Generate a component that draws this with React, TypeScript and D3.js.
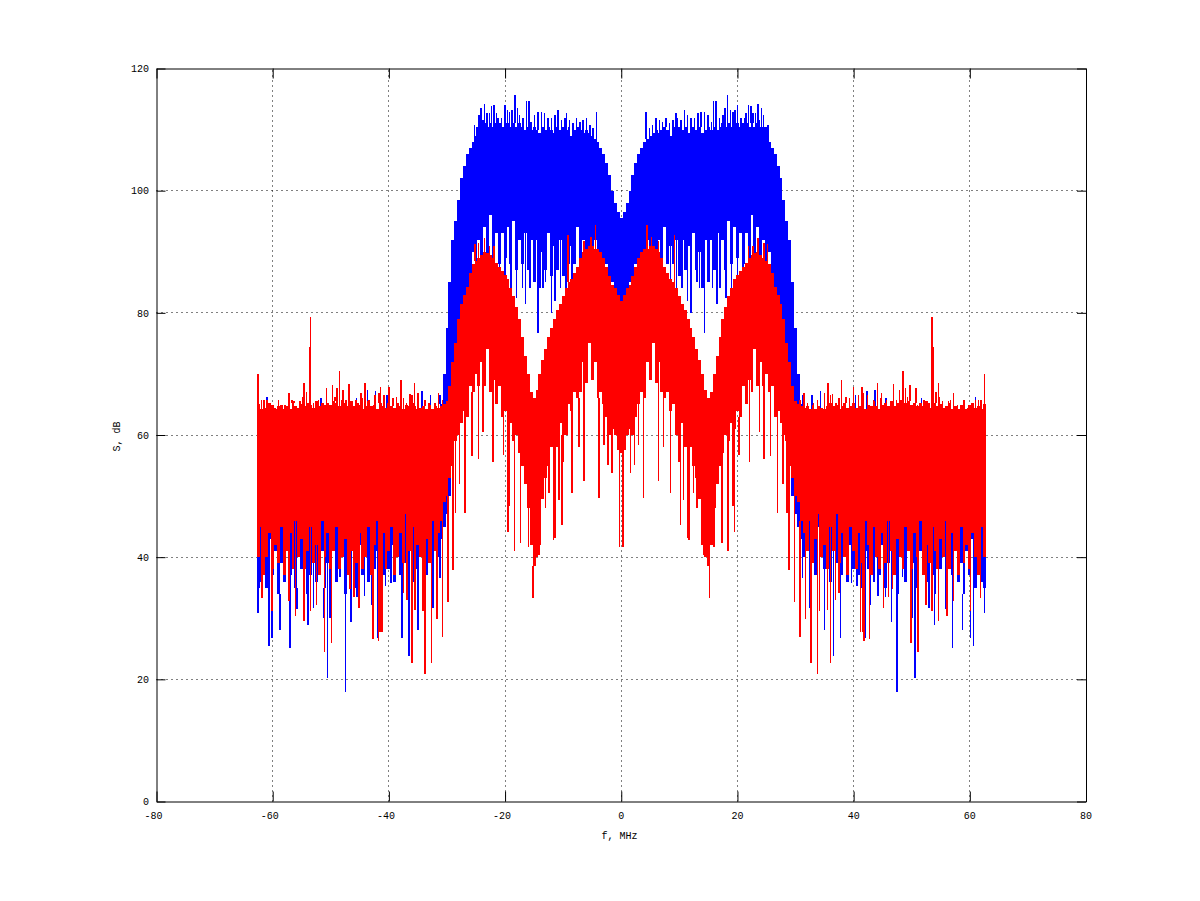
import React, { useEffect, useRef } from 'react'
import * as d3 from 'd3'

const width = 1200
const height = 901

const xTicks = [-80, -60, -40, -20, 0, 20, 40, 60, 80]
const yTicks = [0, 20, 40, 60, 80, 100, 120]

// half spectrum, f = 0, 0.5 ... 62.5 MHz, it is the same on the negative side
const blueTop = [
  95.5, 96.5, 98, 100, 102.5, 104.5, 106, 107, 108, 108.5,
  109, 109.5, 110, 109.5, 110, 110.5, 110, 109, 110.5, 110,
  110.5, 110, 110.5, 109.5, 110, 110.5, 110, 110.5, 109.5, 110,
  110.5, 110, 110.5, 110, 110.5, 111, 110.5, 111, 110.5, 111,
  111, 110.5, 111, 111, 110.5, 111, 110.5, 111, 110.5, 110.5,
  109, 108, 107, 106, 104, 102, 98.5, 95, 92, 85,
  77.5, 70, 65, 63.5, 63, 63.5, 63, 63, 63.5, 63,
  63, 63.5, 63, 63, 63.5, 63, 63, 63.5, 63, 63,
  63.5, 63, 63, 63.5, 63, 63, 63.5, 63, 63, 63.5,
  63, 63.5, 63, 63, 63.5, 63, 63, 63.5, 63, 63,
  63.5, 63, 63, 63.5, 63, 63, 63.5, 63, 63, 63.5,
  63, 63, 63.5, 63, 63, 63.5, 63, 63, 63.5, 63,
  63, 63.5, 63, 63, 63, 63.5
]
const blueBottom = [
  81, 81, 83, 85, 86, 88, 86, 89, 87, 92,
  86, 91, 87, 92, 88, 94, 88, 91, 88, 92,
  86, 92, 87, 91, 86, 93, 87, 90, 84, 92,
  85, 92, 87, 93, 88, 92, 87, 95, 88, 94,
  89, 93, 88, 93, 88, 96, 88, 94, 88, 92,
  87, 90, 82, 80, 75, 70, 62, 60, 55, 50,
  47, 45, 43, 40, 44, 38, 42, 37, 45, 40,
  38, 43, 36, 41, 39, 44, 37, 40, 36, 42,
  38, 43, 37, 35, 41, 38, 44, 36, 40, 37,
  42, 35, 39, 43, 37, 34, 41, 38, 36, 42,
  37, 39, 35, 41, 38, 36, 42, 37, 34, 40,
  38, 42, 35, 40, 37, 43, 36, 39, 34, 41,
  37, 43, 35, 39, 36, 35
]
const redTop = [
  82, 83, 84, 84.5, 86, 87.5, 89, 90, 90.5, 90.5,
  91, 91, 90.5, 90, 89, 87.5, 86.5, 85.5, 85, 84,
  82.7, 81.5, 80.5, 79, 77.5, 76, 74, 72.3, 70, 67.4,
  66, 67, 70, 73, 76, 79, 81, 82.7, 84, 85.5,
  86.2, 86.8, 87.5, 88.2, 89, 89.5, 89.8, 90, 89.5, 89,
  88.5, 88, 86.5, 84.3, 83, 81.5, 79, 75, 72, 68,
  65.5, 65, 64.7, 64.5, 64.7, 64.2, 64.9, 64.2, 64.7, 64.5,
  64.2, 64.7, 65.2, 64.7, 64.9, 64.2, 64.7, 65.2, 64.5, 64.7,
  65.2, 64.5, 64.7, 65.2, 64.3, 64.9, 64.7, 65.5, 64.7, 64.2,
  64.9, 65.2, 64.7, 65.5, 64.7, 65.2, 65.7, 64.7, 65.2, 65.5,
  64.9, 65.2, 64.7, 65.3, 64.7, 65.5, 64.5, 64.9, 65.2, 64.7,
  65.1, 64.5, 64.7, 65.2, 64.3, 64.7, 64.2, 64.9, 64.7, 64.3,
  64.9, 65.2, 64.5, 64.7, 64.2, 65
]
const redBottom = [
  57, 57.5, 60, 61, 60, 63, 65, 67, 66, 72,
  69, 75, 68.5, 72, 67, 66, 67, 64, 65, 60,
  60, 62, 58, 56, 58, 55, 53, 49.5, 42, 40,
  38.5, 42, 48, 52, 55, 57, 60, 59, 62, 61,
  64, 63, 68, 65, 69, 67, 74, 68, 72, 68,
  70, 67, 68, 63, 64, 62, 60, 59, 55, 53,
  50, 49, 46, 44, 41, 46, 39, 43, 47, 40,
  42, 38, 45, 41, 47, 39, 44, 40, 37, 45,
  41, 38, 44, 39, 46, 42, 37, 45, 40, 38,
  44, 39, 46, 41, 37, 43, 40, 38, 45, 41,
  38, 44, 40, 46, 37, 42, 39, 45, 41, 38,
  43, 40, 46, 38, 44, 41, 37, 45, 39, 42,
  38, 44, 40, 37, 45, 40
]

// single lines sticking out of the bands, [f, dB]
const blueSpikesUp = [
  [25.3, 110.8], [24.9, 110.5], [24.5, 112.4], [24.1, 113.5], [23.8, 111.6], [23.5, 114.2],
  [23.1, 112.7], [22.7, 112.7], [22.3, 113.8], [21.9, 114], [21.5, 112.7], [21.2, 111.9],
  [20.6, 111.9], [20, 114], [19.6, 113.2], [19.2, 112.9], [18.8, 113.2], [18.3, 115.7],
  [17.9, 113.5], [17.5, 112.4], [16.9, 111.9], [16.3, 114.6], [15.9, 114.6], [15.5, 111.3],
  [14.9, 112.4], [14.3, 112.9], [13.7, 112.9], [13.2, 112.7], [12.6, 111.9], [12, 111.9],
  [11.4, 112.4], [10.9, 113.2], [10.3, 111.6], [9.7, 111.9], [9.4, 112.7], [8.9, 111.6],
  [8.3, 111], [7.7, 111.9], [7.1, 111.3], [6.6, 111.6], [6, 111.9], [5.4, 110.8],
  [4.9, 110.2], [4.3, 112.9],
  [43.7, 67.4], [42.3, 67.2], [40.3, 66.6], [32.8, 66.5], [34.3, 67.2], [31.2, 66.6],
  [30.5, 66.9], [45.6, 66], [61, 66.2], [51.7, 66.1]
]
const blueSpikesDown = [
  [62.5, 30.8], [60.6, 25.5], [60.1, 26.8], [58.75, 28], [57, 25.2], [55.8, 31.5],
  [53.9, 28.9], [53, 31.7], [51.2, 30], [50.6, 20.2], [50.1, 30], [47.5, 18],
  [46.5, 29.4], [45.5, 33.5], [48.4, 36.8], [45.5, 35.2], [44.2, 33.7], [42.9, 32.2],
  [42, 26.8], [40.6, 35.2], [39.6, 35.8], [37.7, 26.8], [36.5, 23.9], [35, 28],
  [32.4, 31.6], [31.2, 36.6],
  [18, 82.5], [16.5, 81.5], [15.7, 84], [14.3, 76.7], [13.5, 84], [13, 85],
  [12, 80], [11.4, 82], [10.5, 84], [9.5, 83], [8.5, 85], [17, 84], [19, 84], [20, 85], [21, 86]
]
const redSpikesUp = [
  [62.5, 70], [53.5, 79.3], [53.7, 74.4], [48.5, 70.4], [46.9, 68.3], [54.6, 68.5],
  [57.2, 66.9], [49.7, 68.2], [50.7, 67.7], [47.9, 67.4], [48.9, 67.7], [44.1, 68.5],
  [37.9, 69], [35.6, 68.5], [41.4, 67.9], [40, 67.9], [44.8, 66.9], [36.4, 66.7],
  [61.9, 65.7], [61.5, 65.7], [61, 65.7], [60.5, 65.2], [60.1, 64.9], [59.6, 64.4],
  [59, 65.7], [57.9, 64.9], [56.7, 65.7], [56.3, 65.5], [55.3, 65.5], [54.8, 66.3],
  [54.2, 67.1], [53, 65.2], [52.1, 65.7], [51.6, 64.9], [51, 64.9], [50.3, 65.2],
  [49.3, 66.3], [48.1, 65.5], [47.4, 65.7], [46.4, 65.2], [45.7, 65.7], [45.3, 64.9],
  [45.4, 64.9], [44.6, 66], [43.4, 65.7], [42.4, 66.6], [41.7, 66.8], [40.8, 66.6],
  [39.3, 66], [38.7, 66.3], [37.5, 66], [37, 65.2], [36, 66.6], [35, 66.8],
  [33.8, 65.7], [33.1, 65.2], [32.1, 65.2], [31.5, 66.8], [30.8, 65.7],
  [9.2, 92.8], [4.4, 94.4], [6.4, 91.8], [5.2, 92.4], [23.5, 92.3], [24.6, 91.5],
  [25.2, 91.2], [22.7, 91], [21.9, 91]
]
const redSpikesDown = [
  [61.8, 33.3], [60.1, 31.2], [57.2, 32.9], [56.1, 30.3], [54.6, 29.6], [53.5, 31.2],
  [52.5, 32.2], [51.1, 24.5], [49.9, 26], [46.7, 34.8], [46, 33.4], [45.1, 31.7],
  [42.7, 26.6], [41.8, 26.2], [41.5, 27.8], [41.2, 27.7], [37.5, 34.2], [36.9, 33],
  [36, 22.6], [35.5, 31.4], [34.1, 31.2], [33.8, 20.9], [32.7, 22.7], [31.7, 29.8],
  [30.8, 27], [29.8, 32.6], [28.9, 37.9], [25.7, 56.6], [24.6, 56], [23.8, 60.5],
  [22.1, 55.5], [20.3, 56.7], [19.5, 44.2], [18.4, 41], [17.3, 42.4], [16, 41.7],
  [19.2, 48.4], [27.8, 52], [28.5, 47.2], [26.9, 47.2], [29, 37.9], [15.2, 33.3],
  [14.2, 40.4], [11.7, 42.8], [11.4, 43.1], [10.2, 45.3], [8.5, 50.5], [6.4, 52.4],
  [3.8, 49.7], [2.3, 55.1], [1.6, 53.8], [0.3, 41.7], [10.7, 49.4],
  [13, 48], [13.5, 50.5], [12.4, 50.5], [9.9, 55.6], [7.3, 58], [3, 58.3]
]

const halfFreqs = blueTop.map((_, i) => i * 0.5)

export default function App() {
  const svgRef = useRef<SVGSVGElement>(null)

  useEffect(() => {
    if (!svgRef.current) return
    const svg = d3.select(svgRef.current)
    svg.selectAll('*').remove()

    const margin = { top: 68.5, right: 114, bottom: 99.5, left: 156.5 }
    const x = d3.scaleLinear().domain([-80, 80]).range([margin.left, width - margin.right])
    const y = d3.scaleLinear().domain([0, 120]).range([height - margin.bottom, margin.top])

    svg.append('rect')
      .attr('width', width)
      .attr('height', height)
      .attr('fill', 'white')

    // Grid
    svg.append('g')
      .selectAll('line')
      .data(xTicks.slice(1, -1))
      .enter()
      .append('line')
      .attr('x1', d => Math.floor(x(d)) + 0.5)
      .attr('x2', d => Math.floor(x(d)) + 0.5)
      .attr('y1', y(0))
      .attr('y2', y(120))
      .attr('stroke', 'black')
      .attr('stroke-dasharray', '1,4')
    svg.append('g')
      .selectAll('line')
      .data(yTicks.slice(1, -1))
      .enter()
      .append('line')
      .attr('x1', x(-80))
      .attr('x2', x(80))
      .attr('y1', d => Math.floor(y(d)) + 0.5)
      .attr('y2', d => Math.floor(y(d)) + 0.5)
      .attr('stroke', 'black')
      .attr('stroke-dasharray', '1,4')

    // One series: the band and then its spikes, mirrored around f = 0
    const drawSeries = (
      color: string,
      top: number[],
      bottom: number[],
      spikesUp: number[][],
      spikesDown: number[][]
    ) => {
      const g = svg.append('g').attr('shape-rendering', 'crispEdges')
      ;[-1, 1].forEach(side => {
        g.append('g')
          .selectAll('rect')
          .data(halfFreqs)
          .enter()
          .append('rect')
          .attr('x', f => Math.min(x(side * (f - 0.25)), x(side * (f + 0.25))))
          .attr('width', x(0.5) - x(0))
          .attr('y', (_, i) => y(top[i]))
          .attr('height', (_, i) => y(bottom[i]) - y(top[i]))
          .attr('fill', color)

        const spike = (data: number[][], edge: number[]) => {
          g.append('g')
            .selectAll('line')
            .data(data)
            .enter()
            .append('line')
            .attr('x1', d => x(side * d[0]))
            .attr('x2', d => x(side * d[0]))
            .attr('y1', d => y(d[1]))
            .attr('y2', d => y(edge[Math.round(d[0] * 2)]))
            .attr('stroke', color)
            .attr('stroke-width', 1.5)
        }
        spike(spikesUp, top)
        spike(spikesDown, bottom)
      })
    }

    drawSeries('#0000ff', blueTop, blueBottom, blueSpikesUp, blueSpikesDown)
    drawSeries('#ff0000', redTop, redBottom, redSpikesUp, redSpikesDown)

    // Axes and frame
    const font = '"Liberation Mono", monospace'
    const xAxis = svg.append('g')
      .attr('transform', `translate(0,${y(0)})`)
      .call(d3.axisBottom(x).tickValues(xTicks).tickFormat(d => String(d)).tickSizeInner(-10).tickSizeOuter(0).tickPadding(10.5))
    const yAxis = svg.append('g')
      .attr('transform', `translate(${x(-80)},0)`)
      .call(d3.axisLeft(y).tickValues(yTicks).tickFormat(d => String(d)).tickSizeInner(-9).tickSizeOuter(0).tickPadding(7.5))
    svg.append('g')
      .attr('transform', `translate(0,${y(120)})`)
      .call(d3.axisTop(x).tickValues(xTicks).tickFormat(() => '').tickSizeInner(-10).tickSizeOuter(0))
    svg.append('g')
      .attr('transform', `translate(${x(80)},0)`)
      .call(d3.axisRight(y).tickValues(yTicks).tickFormat(() => '').tickSizeInner(-9).tickSizeOuter(0))

    ;[xAxis, yAxis].forEach(a => {
      a.selectAll('text')
        .attr('font-family', font)
        .attr('font-size', '10px')
        .attr('fill', 'black')
    })
    // the minus sign pushes the reference's labels a little to the left
    xAxis.selectAll('text')
      .attr('dx', d => ((d as number) < 0 ? -3.5 : -0.5))

    svg.append('text')
      .attr('x', 619.5)
      .attr('y', 839)
      .attr('text-anchor', 'middle')
      .attr('font-family', font)
      .attr('font-size', '10px')
      .text('f, MHz')

    svg.append('text')
      .attr('transform', 'translate(120,436.5) rotate(-90)')
      .attr('text-anchor', 'middle')
      .attr('font-family', font)
      .attr('font-size', '10px')
      .text('S, dB')
  }, [])

  return (
    <svg
      ref={svgRef}
      width={width}
      height={height}
      style={{ position: 'absolute', left: 0, top: 0 }}
    />
  )
}
